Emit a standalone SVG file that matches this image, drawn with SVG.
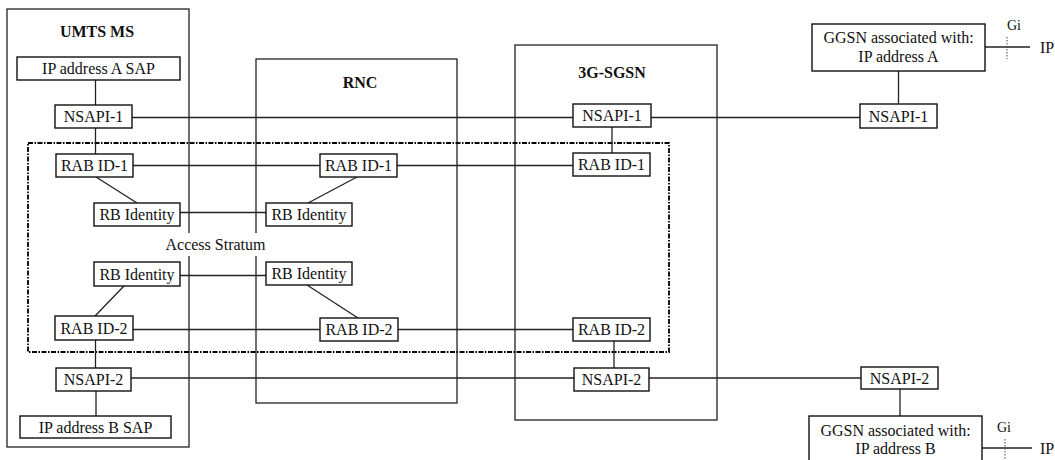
<svg xmlns="http://www.w3.org/2000/svg" width="1055" height="460" viewBox="0 0 1055 460">
<style>
.c{fill:none;stroke:#222;stroke-width:1.3}
.b{fill:#fff;stroke:#111;stroke-width:1.4}
.l{stroke:#222;stroke-width:1.3;fill:none}
.t{font-family:"Liberation Serif","Times New Roman",serif;font-size:16px;fill:#111;text-anchor:middle}
.p{font-family:"Liberation Serif","Times New Roman",serif;font-size:16px;fill:#111;text-anchor:start}
.h{font-family:"Liberation Serif","Times New Roman",serif;font-size:16px;font-weight:bold;fill:#111;text-anchor:middle}
.s{font-family:"Liberation Serif","Times New Roman",serif;font-size:14px;fill:#111;text-anchor:middle}
.d{fill:none;stroke:#000;stroke-width:1.8;stroke-dasharray:5 1.5 1.5 1.5}
.g{stroke:#444;stroke-width:1;stroke-dasharray:1.5 1.5}
</style>
<g id="containers">
<g id="umts-ms"><rect class="c" x="7" y="9" width="182" height="438"/><text class="h" x="97" y="37">UMTS MS</text></g>
<g id="rnc"><rect class="c" x="256" y="59" width="201" height="344"/><text class="h" x="360" y="88">RNC</text></g>
<g id="sgsn"><rect class="c" x="515" y="45" width="202" height="375"/><text class="h" x="612" y="78">3G-SGSN</text></g>
</g>
<g id="access-stratum">
<rect class="d" x="28" y="143" width="641" height="209"/>
</g>
<g id="connectors">
<line class="l" x1="132" y1="117.5" x2="860" y2="117.5"/>
<line class="l" x1="133" y1="165.5" x2="573" y2="165.5"/>
<line class="l" x1="180" y1="212.5" x2="266" y2="212.5"/>
<line class="l" x1="180" y1="275.5" x2="266" y2="275.5"/>
<line class="l" x1="133" y1="329.5" x2="573" y2="329.5"/>
<line class="l" x1="131" y1="378" x2="861" y2="378"/>
<line class="l" x1="95.5" y1="80" x2="95.5" y2="105"/>
<line class="l" x1="95.5" y1="128" x2="95.5" y2="154"/>
<line class="l" x1="95.5" y1="340" x2="95.5" y2="368"/>
<line class="l" x1="96" y1="391" x2="96" y2="416"/>
<line class="l" x1="96" y1="177" x2="137" y2="203"/>
<line class="l" x1="124" y1="286" x2="95" y2="316"/>
<line class="l" x1="357" y1="177" x2="308" y2="203"/>
<line class="l" x1="307" y1="285" x2="358" y2="318"/>
<line class="l" x1="612" y1="127" x2="612" y2="153"/>
<line class="l" x1="614" y1="341" x2="614" y2="368"/>
<line class="l" x1="898.5" y1="71" x2="898.5" y2="104"/>
<line class="l" x1="900" y1="389" x2="900" y2="416"/>
<line class="l" x1="985" y1="47" x2="1030" y2="47"/>
<line class="g" x1="1007" y1="37" x2="1007" y2="59"/>
<line class="l" x1="982" y1="448" x2="1032" y2="448"/>
<line class="g" x1="1005" y1="439" x2="1005" y2="462"/>
</g>
<g id="as-label"><rect x="164" y="233" width="103" height="23" fill="#fff"/><text class="t" x="215.5" y="250">Access Stratum</text></g>
<g id="ip-a-sap"><rect class="b" x="17" y="57" width="163" height="23"/><text class="t" x="98.5" y="74">IP address A SAP</text></g>
<g id="ms-nsapi1"><rect class="b" x="55" y="105" width="77" height="23"/><text class="t" x="93.5" y="122">NSAPI-1</text></g>
<g id="ms-rab1"><rect class="b" x="56" y="154" width="77" height="23"/><text class="t" x="94.5" y="171">RAB ID-1</text></g>
<g id="ms-rb1"><rect class="b" x="94" y="203" width="86" height="23"/><text class="t" x="137" y="220">RB Identity</text></g>
<g id="ms-rb2"><rect class="b" x="94" y="262" width="86" height="24"/><text class="t" x="137" y="279.5">RB Identity</text></g>
<g id="ms-rab2"><rect class="b" x="55" y="316" width="78" height="24"/><text class="t" x="94" y="333.5">RAB ID-2</text></g>
<g id="ms-nsapi2"><rect class="b" x="56" y="368" width="75" height="23"/><text class="t" x="93.5" y="385">NSAPI-2</text></g>
<g id="ip-b-sap"><rect class="b" x="20" y="416" width="151" height="22"/><text class="t" x="95.5" y="432.5">IP address B SAP</text></g>
<g id="rnc-rab1"><rect class="b" x="320" y="154" width="77" height="23"/><text class="t" x="358.5" y="171">RAB ID-1</text></g>
<g id="rnc-rb1"><rect class="b" x="266" y="203" width="86" height="23"/><text class="t" x="309" y="220">RB Identity</text></g>
<g id="rnc-rb2"><rect class="b" x="266" y="262" width="86" height="23"/><text class="t" x="309" y="279">RB Identity</text></g>
<g id="rnc-rab2"><rect class="b" x="320" y="318" width="78" height="23"/><text class="t" x="359" y="335">RAB ID-2</text></g>
<g id="sgsn-nsapi1"><rect class="b" x="573" y="104" width="78" height="23"/><text class="t" x="612" y="121">NSAPI-1</text></g>
<g id="sgsn-rab1"><rect class="b" x="573" y="153" width="77" height="23"/><text class="t" x="611.5" y="170">RAB ID-1</text></g>
<g id="sgsn-rab2"><rect class="b" x="573" y="318" width="77" height="23"/><text class="t" x="611.5" y="335">RAB ID-2</text></g>
<g id="sgsn-nsapi2"><rect class="b" x="574" y="368" width="75" height="23"/><text class="t" x="611.5" y="385">NSAPI-2</text></g>
<g id="ggsn-a"><rect class="b" x="812" y="24" width="173" height="47"/><text class="t" x="898.5" y="43">GGSN associated with:</text><text class="t" x="898.5" y="62">IP address A</text></g>
<g id="ggsn-nsapi1"><rect class="b" x="860" y="104" width="77" height="24"/><text class="t" x="898.5" y="121.5">NSAPI-1</text></g>
<g id="ggsn-nsapi2"><rect class="b" x="861" y="367" width="77" height="22"/><text class="t" x="899.5" y="383.5">NSAPI-2</text></g>
<g id="ggsn-b"><rect class="b" x="809" y="416" width="173" height="47"/><text class="t" x="895.5" y="436">GGSN associated with:</text><text class="t" x="895.5" y="454">IP address B</text></g>
<g id="gi-a"><text class="s" x="1014" y="30">Gi</text><text class="p" x="1040" y="53">IP</text></g>
<g id="gi-b"><text class="s" x="1004" y="432">Gi</text><text class="p" x="1040" y="454">IP</text></g>
</svg>
